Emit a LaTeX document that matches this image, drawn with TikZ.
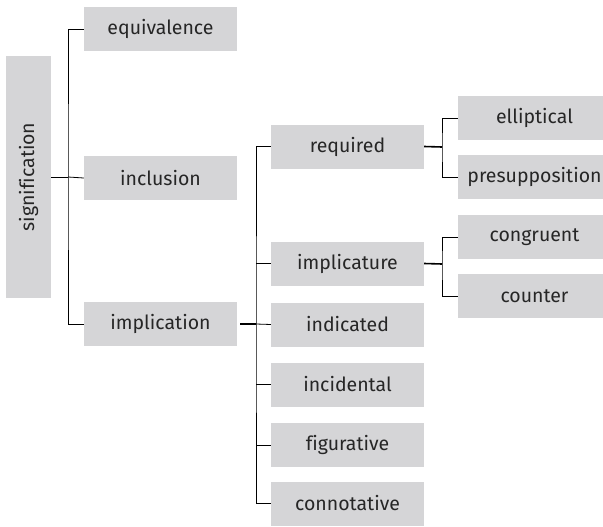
\documentclass[tikz,border=0pt]{standalone}
\usepackage{fontspec}
\setmainfont{Fira Sans}[Ligatures=NoCommon]
\definecolor{boxgray}{HTML}{D5D5D7}
\definecolor{ink}{HTML}{262626}
\begin{document}
\begin{tikzpicture}[x=1pt,y=-1pt,
  term/.style={fill=boxgray, text=ink, inner sep=0pt, minimum width=153pt,
    minimum height=44pt, font=\fontsize{19.5}{22}\selectfont},
  link/.style={draw=black, line width=0.8pt},
  stub/.style={draw=black, line width=1.6pt}]
\useasboundingbox (0,0) rectangle (603,527);

% root
\node[term, rotate=90, minimum width=242pt, minimum height=45pt] (sig) at (28.5,177) {signification};

% first level
\node[term] (equiv) at (160.5,29) {equivalence};
\node[term] (incl)  at (160.5,178) {inclusion};
\node[term] (impl)  at (160.5,324) {implication};

% second level
\node[term] (req)   at (347.5,146.5) {required};
\node[term] (implc) at (347.5,263.5) {implicature};
\node[term] (indic) at (347.5,324.5) {indicated};
\node[term] (incid) at (347.5,384.5) {incidental};
\node[term] (figur) at (347.5,445) {figurative};
\node[term] (conno) at (347.5,503.5) {connotative};

% third level
\node[term] (ellip) at (534.5,118) {elliptical};
\node[term] (presu) at (534.5,177) {presupposition};
\node[term] (congr) at (534.5,237) {congruent};
\node[term] (count) at (534.5,296) {counter};

% junctions
\coordinate (j1) at (68,177);
\coordinate (j2) at (256,324);
\coordinate (j3) at (442,147);
\coordinate (j4) at (442,264);

% connectors
\draw[link] (sig.south) -- (j1);
\draw[link] (equiv.west) -| (j1) |- (impl.west);
\draw[link] (j1) -- (incl.west);

\draw[stub] (impl.east) ++(3,0) -- (j2);
\draw[link] (j2) -- (indic.west);
\draw[link] (req.west) -| (j2) |- (conno.west);
\draw[link] (implc.west -| j2) -- (implc.west);
\draw[link] (incid.west -| j2) -- (incid.west);
\draw[link] (figur.west -| j2) -- (figur.west);

\draw[stub] (req.east) -- (j3);
\draw[link] (ellip.west) -| (j3) |- (presu.west);
\draw[stub] (implc.east) -- (j4);
\draw[link] (congr.west) -| (j4) |- (count.west);
\end{tikzpicture}
\end{document}
